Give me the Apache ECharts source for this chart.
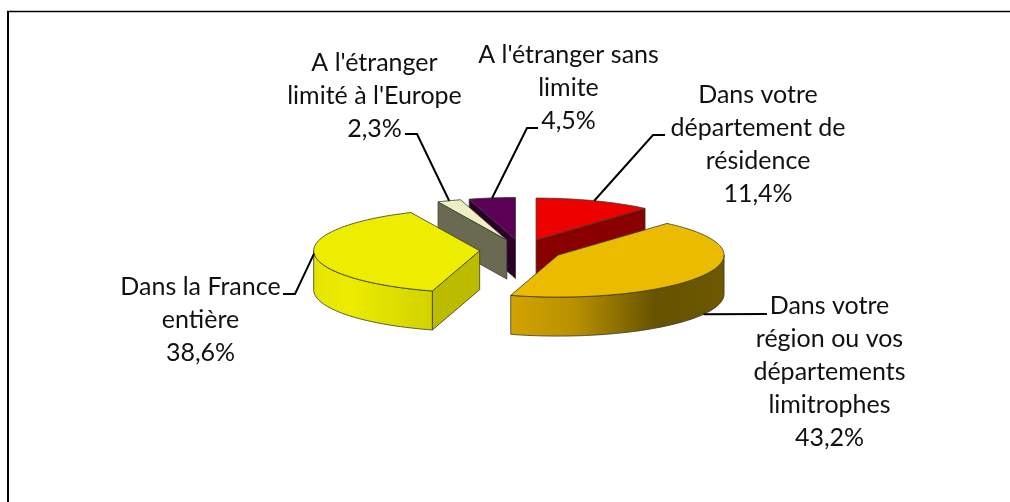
<!DOCTYPE html>
<html lang="fr">
<head>
<meta charset="utf-8">
<title>Camembert 3D</title>
<script src="https://cdn.jsdelivr.net/npm/echarts@6/dist/echarts.min.js"></script>
<style>
  html, body { margin: 0; padding: 0; background: #fff; }
  #chart { width: 1010px; height: 502px; }
</style>
</head>
<body>
<div id="chart"></div>
<script>
// données
const categories = [
  'Dans votre\ndépartement de\nrésidence',
  'Dans votre\nrégion ou vos\ndépartements\nlimitrophes',
  'Dans la France\nentière',
  "A l'étranger\nlimité à l'Europe",
  "A l'étranger sans\nlimite"
]
const values = [11.4, 43.2, 38.6, 2.3, 4.5]

// couleurs de chaque part
const topColors = ['#EE0000', '#EBBB00', '#EDED00', '#EEEEC4', '#5C0058']
const cutColors = ['#8A0000', '#6A5500', '#BBBB00', '#6A6A52', '#2B002A']
const wallStops = [
  [[0, '#8A0000'], [1, '#8A0000']],
  [[0, '#D2A400'], [0.3, '#B89000'], [0.68, '#665200'], [1, '#6E5800']],
  [[0, '#E4E400'], [0.3, '#ECEC00'], [1, '#D2D200']],
  [[0, '#6A6A52'], [1, '#6A6A52']],
  [[0, '#2B002A'], [1, '#2B002A']]
]

// position des étiquettes et coude des traits de rappel
const labelCenters = [[758, 144], [829.5, 372], [200.5, 319.5], [374.5, 96], [568.5, 88]]
const elbows = [
  [[653, 135], [665, 135]],
  [[767, 314]],
  [[295, 294], [283, 294]],
  [[417, 134], [405, 134]],
  [[527, 128], [538, 128]]
]

// géométrie du camembert
const cx = 521.4
const cy = 250
const rx = 166
const ry = 42
const explode = 0.252
const depth = 39
const total = values.reduce((a, b) => a + b, 0)

function pt(ox, oy, deg) {
  const a = deg * Math.PI / 180
  return [ox + rx * Math.sin(a), oy - ry * Math.cos(a)]
}

function arcPoints(ox, oy, from, to) {
  const pts = []
  const n = Math.max(2, Math.ceil((to - from) / 2))
  for (let i = 0; i <= n; i++) {
    pts.push(pt(ox, oy, from + (to - from) * i / n))
  }
  return pts
}

const outline = { stroke: '#3a3a2a', lineWidth: 0.8, lineJoin: 'round' }

function renderSlice(params, api) {
  const i = params.dataIndex
  const val = api.value(0)
  let before = 0
  for (let k = 0; k < i; k++) before += values[k]
  const start = before / total * 360
  const end = start + val / total * 360
  const mid = (start + end) / 2
  const midRad = mid * Math.PI / 180

  // décalage de la part éclatée
  const ox = cx + explode * rx * Math.sin(midRad)
  const oy = cy - explode * ry * Math.cos(midRad)
  const apex = [ox, oy]
  const order = Math.round((1 - Math.cos(midRad)) * 100)
  const children = []

  // faces coupées visibles
  const cutFace = function (deg) {
    const p = pt(ox, oy, deg)
    children.push({
      type: 'polygon',
      z2: order,
      shape: { points: [apex, p, [p[0], p[1] + depth], [ox, oy + depth]] },
      style: Object.assign({ fill: cutColors[i] }, outline)
    })
  }
  if (Math.sin(start * Math.PI / 180) < -0.001) cutFace(start)
  if (Math.sin(end * Math.PI / 180) > 0.001) cutFace(end)

  // paroi extérieure, seulement la moitié avant
  const wFrom = Math.max(start, 90)
  const wTo = Math.min(end, 270)
  if (wTo > wFrom) {
    const upper = arcPoints(ox, oy, wFrom, wTo)
    const lower = upper.map(p => [p[0], p[1] + depth]).reverse()
    children.push({
      type: 'polygon',
      z2: order + 1,
      shape: { points: upper.concat(lower) },
      style: Object.assign({
        fill: {
          type: 'linear', x: 0, y: 0, x2: 1, y2: 0,
          colorStops: wallStops[i].map(s => ({ offset: s[0], color: s[1] }))
        }
      }, outline)
    })
  }

  // dessus
  children.push({
    type: 'polygon',
    z2: order + 2,
    shape: { points: [apex].concat(arcPoints(ox, oy, start, end)) },
    style: Object.assign({ fill: topColors[i] }, outline)
  })

  // trait de rappel, part du bas de la paroi pour les parts à l'avant
  const anchor = pt(ox, oy, mid)
  if (Math.cos(midRad) < -0.25) anchor[1] += depth
  children.push({
    type: 'polyline',
    z2: 300,
    shape: { points: [anchor].concat(elbows[i]) },
    style: { fill: null, stroke: '#000', lineWidth: 2 }
  })

  // étiquette
  children.push({
    type: 'text',
    z2: 301,
    x: labelCenters[i][0],
    y: labelCenters[i][1],
    style: {
      text: categories[i] + '\n' + val.toFixed(1).replace('.', ',') + '%',
      font: '25px Lato, "Open Sans", sans-serif',
      lineHeight: 33,
      fill: '#111',
      align: 'center',
      verticalAlign: 'middle'
    }
  })

  return { type: 'group', children }
}

const chart = echarts.init(document.getElementById('chart'), null, { renderer: 'canvas' })

chart.setOption({
  animation: false,
  backgroundColor: '#fff',
  tooltip: { show: false },
  // cadre : seulement en haut et à gauche
  graphic: [
    { type: 'line', silent: true, shape: { x1: 7, y1: 11.5, x2: 1010, y2: 11.5 }, style: { stroke: '#000', lineWidth: 1.5 } },
    { type: 'line', silent: true, shape: { x1: 8, y1: 11, x2: 8, y2: 502 }, style: { stroke: '#000', lineWidth: 2 } }
  ],
  series: [
    {
      type: 'custom',
      coordinateSystem: 'none',
      silent: true,
      renderItem: renderSlice,
      data: values.map(v => [v])
    }
  ]
})

window.addEventListener('resize', () => chart.resize())
</script>
</body>
</html>
